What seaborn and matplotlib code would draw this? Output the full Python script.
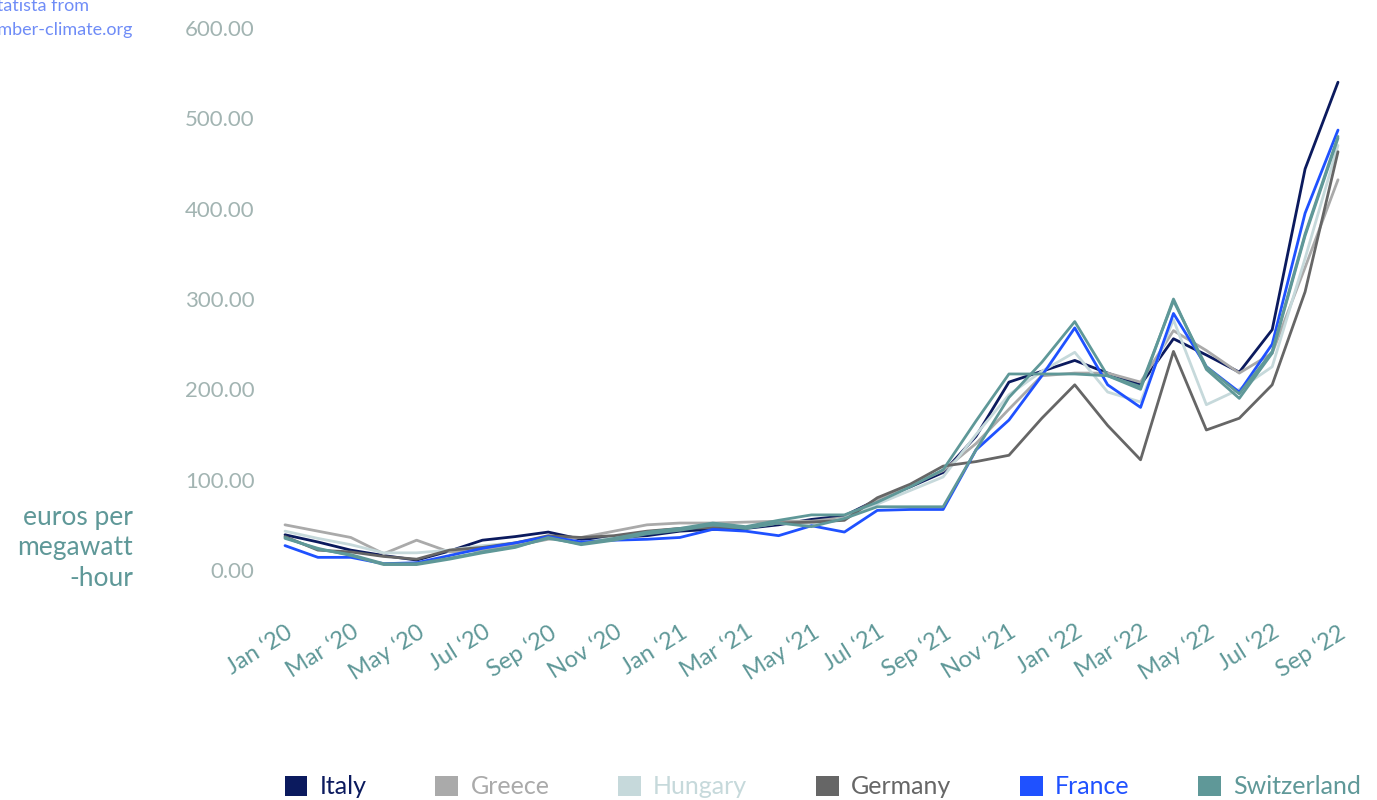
import matplotlib
matplotlib.use("Agg")
import matplotlib.pyplot as plt
from matplotlib.patches import Patch
import seaborn as sns
import pandas as pd

months = ["Jan", "Feb", "Mar", "Apr", "May", "Jun", "Jul", "Aug", "Sep", "Oct", "Nov", "Dec"]
month_labels = [f"{months[i % 12]} \u2018{20 + i // 12}" for i in range(33)]

italy = [39, 31, 22, 16, 11, 21, 33, 37, 42, 34, 36, 38, 43, 45, 46, 50, 56, 60, 78, 92, 108, 148, 208, 220, 232, 218, 205, 256, 238, 219, 266, 444, 540]
greece = [50, 43, 36, 18, 33, 20, 22, 27, 34, 36, 43, 50, 52, 52, 53, 54, 54, 58, 78, 94, 110, 140, 178, 215, 218, 218, 208, 265, 243, 218, 240, 335, 432]
hungary = [43, 35, 28, 19, 19, 22, 27, 30, 36, 30, 36, 42, 46, 50, 47, 52, 50, 57, 73, 88, 103, 150, 194, 220, 241, 197, 186, 277, 183, 200, 225, 345, 470]
germany = [37, 22, 20, 15, 12, 22, 25, 30, 38, 36, 38, 43, 46, 47, 47, 52, 53, 55, 80, 95, 115, 120, 127, 168, 205, 160, 122, 242, 155, 168, 205, 308, 463]
france = [27, 14, 14, 7, 8, 16, 24, 30, 37, 31, 33, 34, 36, 45, 43, 38, 49, 42, 66, 67, 67, 133, 166, 215, 268, 205, 180, 284, 225, 197, 250, 395, 487]
switzerland = [35, 24, 16, 6, 6, 12, 19, 25, 36, 28, 33, 40, 44, 50, 46, 52, 48, 57, 70, 70, 70, 133, 191, 230, 275, 215, 200, 300, 222, 190, 240, 370, 478]
# seventh series whose legend entry falls below the visible canvas
hidden_series = [36, 23, 17, 7, 7, 13, 20, 26, 35, 29, 35, 42, 46, 52, 48, 55, 61, 61, 75, 92, 111, 165, 217, 217, 217, 215, 203, 298, 225, 195, 242, 372, 480]

series_names = ["Italy", "Greece", "Hungary", "Germany", "France", "Switzerland", "Other"]
series_values = [italy, greece, hungary, germany, france, switzerland, hidden_series]
series_colors = ["#0b1a5e", "#aaaaaa", "#c6d9db", "#666666", "#1f51ff", "#5f9898", "#5f9898"]

y_ticks = [0, 100, 200, 300, 400, 500, 600]

rows = []
for name, vals in zip(series_names, series_values):
    for i, v in enumerate(vals):
        rows.append({"month": i, "value": v, "country": name})
df = pd.DataFrame(rows)

sns.set_theme(style="white")
plt.rcParams["font.family"] = ["Lato", "DejaVu Sans"]

fig = plt.figure(figsize=(13.77, 8.0), dpi=100)
ax = fig.add_axes([285 / 1377, 1 - 570 / 800, (1338 - 285) / 1377, (570 - 28) / 800])

sns.lineplot(data=df, x="month", y="value", hue="country", hue_order=series_names,
             palette=dict(zip(series_names, series_colors)), linewidth=2.0,
             legend=False, ax=ax, sort=False, estimator=None)
for ln in ax.get_lines():
    ln.set_clip_on(False)

ax.set_xlim(0, 32)
ax.set_ylim(0, 600)
ax.set_xlabel("")
ax.set_ylabel("")
for s in ax.spines.values():
    s.set_visible(False)

ax.set_yticks(y_ticks)
ax.set_yticklabels([f"{v:.2f}" for v in y_ticks], fontsize=16, color="#a2b4b2")
ax.tick_params(axis="y", length=0, pad=22)

tick_pos = list(range(0, 33, 2))
ax.set_xticks(tick_pos)
ax.set_xticklabels([month_labels[i] for i in tick_pos], rotation=32, ha="right",
                   rotation_mode="anchor", fontsize=17, color="#5f9898")
ax.tick_params(axis="x", length=0, pad=37)

fig.text(133 / 1377, 1 - 548 / 800, "euros per\nmegawatt\n-hour", ha="right", va="center",
         fontsize=19, color="#5f9898", linespacing=1.3)
fig.text(-13 / 1377, 1 - 18 / 800, "Statista from\nEmber-climate.org", ha="left", va="center",
         fontsize=13, color="#6f8cf7", linespacing=1.6)

handles = [Patch(facecolor=c, edgecolor="none") for c in series_colors[:6]]
fig.legend(handles, series_names[:6], loc="center", bbox_to_anchor=(823 / 1377, 1 - 787 / 800),
           ncol=6, frameon=False, fontsize=18, labelcolor=series_colors[:6],
           handlelength=0.9, handleheight=0.9, handletextpad=0.5, columnspacing=2.75)

fig.savefig("out.png", dpi=100)
